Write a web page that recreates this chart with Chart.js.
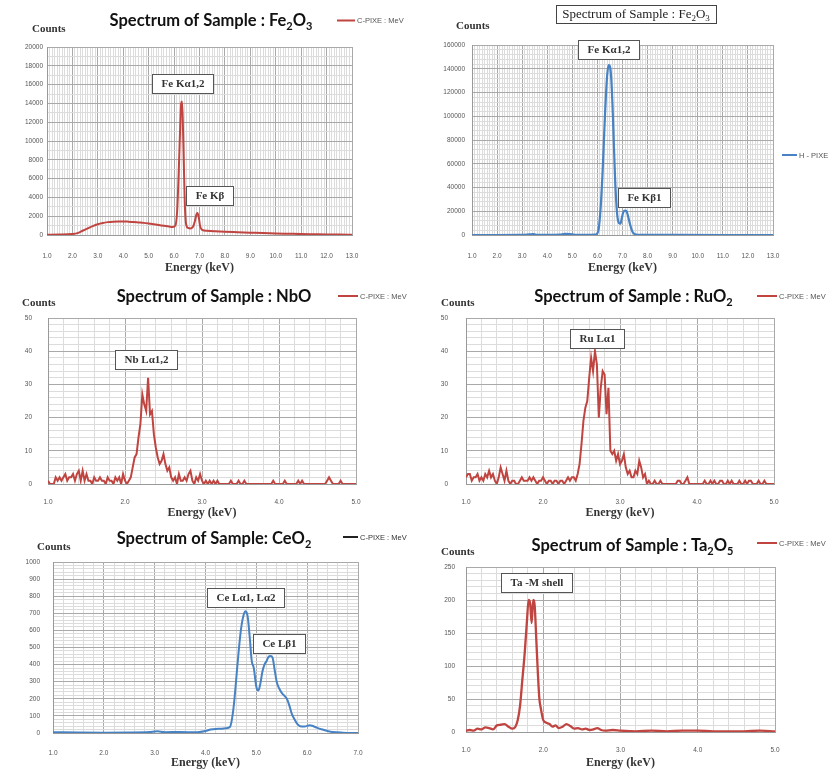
<!DOCTYPE html>
<html>
<head>
<meta charset="utf-8">
<script src="https://cdn.jsdelivr.net/npm/chart.js@4.4.1/dist/chart.umd.min.js"></script>
<style>
  html, body { margin: 0; padding: 0; background: #fff; }
  #sheet { position: relative; width: 830px; height: 773px; overflow: hidden; }
  #sheet canvas { position: absolute; }
</style>
</head>
<body>
<div id="sheet">
  <canvas id="c1" width="415" height="280" style="left:0;top:0"></canvas>
  <canvas id="c2" width="415" height="280" style="left:415px;top:0"></canvas>
  <canvas id="c3" width="415" height="240" style="left:0;top:280px"></canvas>
  <canvas id="c4" width="415" height="240" style="left:415px;top:280px"></canvas>
  <canvas id="c5" width="415" height="253" style="left:0;top:520px"></canvas>
  <canvas id="c6" width="415" height="253" style="left:415px;top:520px"></canvas>
</div>
<script>
// Spectres PIXE (énergie en keV, coups)

// Fe2O3, C-PIXE
const feCEnergy = [1.0, 1.5, 2.0, 2.2, 2.4, 2.6, 2.8, 3.0, 3.2, 3.4, 3.6, 3.8, 4.0, 4.2, 4.4,
  4.6, 4.8, 5.0, 5.2, 5.4, 5.6, 5.8, 5.95, 6.05, 6.12, 6.18, 6.24, 6.28, 6.31, 6.34, 6.38, 6.42,
  6.47, 6.55, 6.65, 6.75, 6.82, 6.88, 6.92, 6.97, 7.02, 7.1, 7.3, 7.6, 8.0, 8.5, 9.0, 9.5, 10.0,
  10.5, 11.0, 11.5, 12.0, 12.5, 13.0];
const feCCounts = [30, 40, 100, 200, 450, 700, 950, 1150, 1280, 1370, 1420, 1440, 1440, 1420, 1390,
  1340, 1290, 1220, 1140, 1060, 980, 900, 850, 1000, 2500, 6500, 11500, 14000, 14200, 12500, 8000, 3500,
  1200, 750, 700, 900, 1500, 2200, 2350, 1900, 1000, 550, 450, 400, 350, 300, 250, 200, 160,
  130, 100, 80, 60, 45, 35];
const feCNotes = ['Fe Kα1,2', 'Fe Kβ'];
const feCNoteAt = [[6.33, 16170], [7.38, 4255]];

// Fe2O3, H-PIXE
const feHEnergy = [1.0, 2.0, 3.0, 3.3, 3.45, 3.6, 4.0, 4.5, 4.7, 4.9, 5.1, 5.5, 5.9, 6.0, 6.05,
  6.1, 6.15, 6.2, 6.25, 6.3, 6.35, 6.4, 6.45, 6.5, 6.55, 6.6, 6.65, 6.7, 6.75, 6.8, 6.86, 6.92,
  6.97, 7.03, 7.1, 7.16, 7.22, 7.3, 7.38, 7.45, 7.55, 7.7, 8.0, 9.0, 13.0];
const feHCounts = [0, 0, 100, 500, 700, 200, 100, 300, 900, 700, 200, 100, 300, 1500, 5000,
  15000, 30000, 50000, 75000, 100000, 122000, 137000, 143000, 142000, 132000, 110000, 80000, 50000,
  28000, 15000, 10000, 9500, 14000, 19000, 20500, 20000, 16000, 9000, 3500, 1200, 300, 100, 50, 30, 0];
const feHNotes = ['Fe Kα1,2', 'Fe Kβ1'];
const feHNoteAt = [[6.46, 155800], [7.87, 31200]];

// NbO et RuO2 : un canal tous les 0.025 keV à partir de 1.0 keV
const channelKeV = 0.025;
const nbCounts = [
  1, 0, 0, 0, 2, 1, 2, 1,
  2, 3, 1, 2, 2, 3, 1, 3,
  4, 1, 4, 1, 3, 1, 1, 0,
  2, 1, 1, 2, 1, 1, 0, 2,
  1, 1, 0, 2, 1, 2, 0, 3,
  1, 0, 1, 2, 5, 8, 9, 14,
  18, 27, 24, 22, 32, 21, 22, 15,
  11, 8, 6, 7, 9, 6, 4, 5,
  2, 1, 2, 0, 3, 1, 1, 2,
  1, 3, 4, 1, 0, 2, 1, 3,
  1, 0, 1, 0, 1, 0, 1, 0,
  1, 0, 0, 0, 0, 0, 0, 1,
  0, 0, 0, 1, 0, 0, 1, 0,
  0, 0, 0, 0, 0, 0, 0, 0,
  0, 0, 0, 0, 0, 1, 0, 0,
  0, 0, 0, 1, 0, 0, 0, 0,
  0, 0, 1, 0, 1, 0, 0, 0,
  0, 0, 0, 0, 0, 0, 0, 0,
  0, 1, 2, 1, 0, 0, 0, 0,
  1, 0, 0, 0, 0, 0, 0, 0,
  0];
const nbNotes = ['Nb Lα1,2'];
const nbNoteAt = [[2.27, 37.5]];

const ruCounts = [
  2, 3, 3, 1, 2, 2, 3, 1,
  2, 1, 3, 2, 4, 2, 3, 1,
  0, 2, 5, 3, 1, 4, 1, 0,
  1, 1, 0, 0, 1, 2, 1, 1,
  1, 2, 1, 2, 1, 0, 1, 1,
  2, 1, 0, 1, 1, 0, 1, 1,
  0, 1, 1, 0, 1, 2, 1, 2,
  2, 1, 3, 6, 12, 19, 23, 25,
  32, 38, 34, 40, 36, 20, 29, 34,
  33, 21, 29, 10, 9, 10, 7, 9,
  6, 7, 9, 5, 3, 4, 2, 2,
  4, 3, 7, 5, 2, 3, 0, 1,
  0, 0, 1, 0, 0, 1, 0, 0,
  0, 0, 0, 0, 0, 0, 1, 1,
  0, 0, 1, 2, 0, 0, 0, 0,
  0, 0, 0, 0, 1, 0, 0, 1,
  0, 1, 0, 0, 1, 1, 0, 0,
  1, 0, 1, 0, 0, 0, 1, 0,
  0, 1, 0, 1, 1, 0, 0, 0,
  1, 0, 0, 1, 0, 0, 0, 0,
  0];
const ruNotes = ['Ru Lα1'];
const ruNoteAt = [[2.70, 43.8]];

// CeO2
const ceEnergy = [1.0, 1.5, 2.0, 2.5, 2.9, 3.05, 3.2, 3.5, 3.8, 4.0, 4.1, 4.2, 4.3, 4.4, 4.48,
  4.52, 4.56, 4.6, 4.65, 4.7, 4.75, 4.79, 4.83, 4.87, 4.91, 4.95, 5.0, 5.04, 5.08, 5.12,
  5.16, 5.2, 5.24, 5.28, 5.32, 5.36, 5.4, 5.45, 5.5, 5.56, 5.6, 5.65, 5.7, 5.75, 5.8,
  5.86, 5.95, 6.05, 6.1, 6.2, 6.3, 6.4, 6.5, 6.7, 7.0];
const ceCounts = [5, 3, 2, 3, 6, 10, 5, 6, 4, 12, 20, 24, 25, 28, 35,
  80, 170, 300, 470, 610, 690, 712, 680, 560, 420, 380, 270, 248, 290, 360,
  400, 420, 445, 450, 440, 370, 300, 260, 235, 215, 200, 160, 110, 80, 55,
  40, 38, 45, 42, 30, 20, 12, 6, 2, 0];
const ceNotes = ['Ce Lα1, Lα2', 'Ce Lβ1'];
const ceNoteAt = [[4.78, 795], [5.44, 526]];

// Ta2O5
const taEnergy = [1.0, 1.05, 1.1, 1.15, 1.2, 1.25, 1.3, 1.35, 1.4, 1.45, 1.5, 1.55, 1.6, 1.64, 1.67,
  1.7, 1.73, 1.76, 1.79, 1.81, 1.83, 1.85, 1.87, 1.89, 1.91, 1.93, 1.95, 1.97, 2.0, 2.04,
  2.08, 2.12, 2.16, 2.2, 2.25, 2.3, 2.35, 2.4, 2.45, 2.5, 2.55, 2.6, 2.65, 2.7, 2.75,
  2.8, 2.9, 3.0, 3.2, 3.4, 3.6, 3.8, 4.0, 4.2, 4.4, 4.6, 4.8, 5.0];
const taCounts = [2, 3, 2, 5, 4, 7, 6, 4, 10, 11, 12, 8, 5, 8, 18,
  40, 80, 120, 170, 200, 195, 165, 200, 190, 140, 90, 50, 35, 18, 14,
  12, 8, 10, 6, 8, 12, 9, 5, 6, 4, 5, 3, 4, 6, 3,
  2, 3, 2, 1, 2, 1, 2, 2, 1, 1, 1, 2, 1];
const taNotes = ['Ta -M shell'];
const taNoteAt = [[1.91, 226]];

const RED = '#c0443f';
const BLUE = '#4682c4';
const SERIF = "'Liberation Serif', 'DejaVu Serif', serif";
const SANS = "'Liberation Sans', Arial, sans-serif";
const TITLE_FONT = "Lato, 'Liberation Sans', sans-serif";

Chart.defaults.font.family = SANS;

function pairs(xs, ys) {
  return ys.map((y, i) => ({ x: xs[i], y: y }));
}
function channels(ys) {
  return ys.map((y, i) => ({ x: 1.0 + i * channelKeV, y: y }));
}
function isMajor(v, step) {
  const r = v / step;
  return Math.abs(r - Math.round(r)) < 1e-6;
}

// texte avec indices : "Fe_2O_3"
function subParts(str) {
  const parts = [];
  let buf = '';
  for (let i = 0; i < str.length; i++) {
    if (str[i] === '_' && i + 1 < str.length) {
      if (buf) parts.push({ t: buf, sub: false });
      buf = '';
      parts.push({ t: str[i + 1], sub: true });
      i++;
    } else {
      buf += str[i];
    }
  }
  if (buf) parts.push({ t: buf, sub: false });
  return parts;
}

function drawSubText(ctx, str, cx, cy, family, weight, size, color) {
  const parts = subParts(str);
  const fontFor = p => weight + ' ' + (p.sub ? Math.round(size * 0.68) : size) + 'px ' + family;
  let total = 0;
  parts.forEach(p => { ctx.font = fontFor(p); p.w = ctx.measureText(p.t).width; total += p.w; });
  let x = cx - total / 2;
  const base = cy + size * 0.36;
  ctx.fillStyle = color;
  ctx.textAlign = 'left';
  ctx.textBaseline = 'alphabetic';
  parts.forEach(p => {
    ctx.font = fontFor(p);
    ctx.fillText(p.t, x, p.sub ? base + size * 0.22 : base);
    x += p.w;
  });
  return total;
}

// titre, "Counts", légende et étiquettes encadrées
const decor = {
  id: 'decor',
  afterDraw(chart, args, o) {
    const ctx = chart.ctx;
    ctx.save();

    if (o.boxedTitle) {
      const w = drawSubText(ctx, o.title, o.titleX, o.titleY, SERIF, 'normal', 13, '#222');
      ctx.strokeStyle = '#444';
      ctx.lineWidth = 1;
      ctx.strokeRect(Math.round(o.titleX - w / 2 - 6) + 0.5, Math.round(o.titleY - 9) + 0.5,
        Math.round(w + 12), 18);
    } else {
      drawSubText(ctx, o.title, o.titleX, o.titleY, TITLE_FONT, 'bold', 16.5, '#111');
    }

    ctx.font = 'bold 11px ' + SERIF;
    ctx.fillStyle = '#333';
    ctx.textAlign = 'left';
    ctx.textBaseline = 'middle';
    ctx.fillText('Counts', o.countsX, o.countsY);

    ctx.strokeStyle = o.legendColor;
    ctx.lineWidth = 2;
    ctx.beginPath();
    ctx.moveTo(o.legendX, o.legendY);
    ctx.lineTo(o.legendX + o.legendLen, o.legendY);
    ctx.stroke();
    ctx.font = '7.5px ' + SANS;
    ctx.fillStyle = o.legendTextColor || '#555';
    ctx.fillText(o.legendText, o.legendX + o.legendLen + 2, o.legendY + 0.5);

    const xs = chart.scales.x, ys = chart.scales.y;
    ctx.font = 'bold 11px ' + SERIF;
    o.notes.forEach((text, i) => {
      const px = xs.getPixelForValue(o.noteAt[i][0]);
      const py = ys.getPixelForValue(o.noteAt[i][1]);
      const w = Math.round(ctx.measureText(text).width + 18);
      const h = 19;
      const left = Math.round(px - w / 2), top = Math.round(py - h / 2);
      ctx.fillStyle = '#fff';
      ctx.fillRect(left, top, w, h);
      ctx.strokeStyle = '#555';
      ctx.lineWidth = 1;
      ctx.strokeRect(left + 0.5, top + 0.5, w, h);
      ctx.fillStyle = '#333';
      ctx.textAlign = 'center';
      ctx.textBaseline = 'middle';
      ctx.fillText(text, left + w / 2 + 0.5, top + h / 2 + 1);
    });

    ctx.restore();
  }
};

const panels = [
  { id: 'c1', size: [415, 280], area: [47, 47, 352, 235],
    x: [1, 13, 1, 0.1], y: [20000, 2000, 1000],
    data: pairs(feCEnergy, feCCounts), color: RED, width: 2, smooth: true,
    yPad: 4, xTickPad: 17, xTitlePad: 4.8,
    deco: { title: 'Spectrum of Sample : Fe_2O_3', titleX: 211, titleY: 20,
      countsX: 32, countsY: 29, legendX: 337, legendY: 20.5, legendLen: 18, legendColor: RED,
      legendText: 'C-PIXE : MeV', notes: feCNotes, noteAt: feCNoteAt } },
  { id: 'c2', size: [415, 280], area: [57, 45, 358, 235],
    x: [1, 13, 1, 0.1], y: [160000, 20000, 4000],
    data: pairs(feHEnergy, feHCounts), color: BLUE, width: 2.2, smooth: true,
    yPad: 7, xTickPad: 17, xTitlePad: 4.8,
    deco: { title: 'Spectrum of Sample : Fe_2O_3', boxedTitle: true, titleX: 221, titleY: 13.5,
      countsX: 41, countsY: 26, legendX: 367, legendY: 155, legendLen: 15, legendColor: BLUE,
      legendText: 'H - PIXE', notes: feHNotes, noteAt: feHNoteAt } },
  { id: 'c3', size: [415, 240], area: [48, 38, 356, 204],
    x: [1, 5, 1, 0.2], y: [50, 10, 2],
    data: channels(nbCounts), color: RED, width: 2, smooth: false,
    yPad: 16, xTickPad: 14, xTitlePad: 0,
    deco: { title: 'Spectrum of Sample : NbO', titleX: 214, titleY: 16,
      countsX: 22, countsY: 23, legendX: 338, legendY: 16, legendLen: 20, legendColor: RED,
      legendText: 'C-PIXE : MeV', notes: nbNotes, noteAt: nbNoteAt } },
  { id: 'c4', size: [415, 240], area: [51, 38, 359, 204],
    x: [1, 5, 1, 0.2], y: [50, 10, 2],
    data: channels(ruCounts), color: RED, width: 2, smooth: false,
    yPad: 18, xTickPad: 14, xTitlePad: 0,
    deco: { title: 'Spectrum of Sample : RuO_2', titleX: 218.5, titleY: 16,
      countsX: 26, countsY: 23, legendX: 342, legendY: 16, legendLen: 20, legendColor: RED,
      legendText: 'C-PIXE : MeV', notes: ruNotes, noteAt: ruNoteAt } },
  { id: 'c5', size: [415, 253], area: [53, 42, 358, 213],
    x: [1, 7, 1, 0.2], y: [1000, 100, 20],
    data: pairs(ceEnergy, ceCounts), color: BLUE, width: 2, smooth: true,
    yPad: 13, xTickPad: 16, xTitlePad: 2.8,
    deco: { title: 'Spectrum of Sample: CeO_2', titleX: 214, titleY: 18,
      countsX: 37, countsY: 27, legendX: 343, legendY: 17, legendLen: 15, legendColor: '#222',
      legendTextColor: '#333', legendText: 'C-PIXE : MeV', notes: ceNotes, noteAt: ceNoteAt } },
  { id: 'c6', size: [415, 253], area: [51, 47, 360, 212],
    x: [1, 5, 1, 0.2], y: [250, 50, 10],
    data: pairs(taEnergy, taCounts), color: RED, width: 2.3, smooth: true,
    yPad: 11, xTickPad: 14, xTitlePad: 2.8,
    deco: { title: 'Spectrum of Sample : Ta_2O_5', titleX: 217.5, titleY: 25,
      countsX: 26, countsY: 32, legendX: 342, legendY: 23, legendLen: 20, legendColor: RED,
      legendText: 'C-PIXE : MeV', notes: taNotes, noteAt: taNoteAt } }
];

panels.forEach(p => {
  const [W, H] = p.size;
  const [l, t, r, b] = p.area;
  const [xMin, xMax, xMajor, xMinor] = p.x;
  const [yMax, yMajor, yMinor] = p.y;
  const tickFont = { family: SANS, size: 6.5 };

  new Chart(document.getElementById(p.id), {
    type: 'line',
    data: {
      datasets: [{
        data: p.data,
        borderColor: p.color,
        borderWidth: p.width,
        pointRadius: 0,
        fill: false,
        cubicInterpolationMode: p.smooth ? 'monotone' : 'default',
        tension: 0
      }]
    },
    options: {
      responsive: false,
      animation: false,
      events: [],
      layout: { padding: { left: 0, top: t, right: W - r, bottom: 0 } },
      plugins: {
        legend: { display: false },
        tooltip: { enabled: false },
        decor: p.deco
      },
      scales: {
        x: {
          type: 'linear', min: xMin, max: xMax,
          afterFit(scale) { scale.height = H - b; },
          border: { display: true, color: '#999' },
          grid: {
            drawTicks: false,
            color: c => (c.tick && isMajor(c.tick.value, xMajor)) ? '#a9a9a9' : '#dcdcdc'
          },
          ticks: {
            stepSize: xMinor, autoSkip: false, maxRotation: 0, minRotation: 0,
            padding: p.xTickPad, font: tickFont, color: '#555',
            callback: v => isMajor(v, xMajor) ? Number(v).toFixed(1) : ''
          },
          title: {
            display: true, text: 'Energy (keV)', color: '#333',
            font: { family: SERIF, size: 12, weight: 'bold' },
            padding: { top: 0, bottom: p.xTitlePad }
          }
        },
        y: {
          type: 'linear', min: 0, max: yMax,
          afterFit(scale) { scale.width = l; },
          border: { display: true, color: '#999' },
          grid: {
            drawTicks: false,
            color: c => (c.tick && isMajor(c.tick.value, yMajor)) ? '#a9a9a9' : '#dcdcdc'
          },
          ticks: {
            stepSize: yMinor, autoSkip: false,
            padding: p.yPad, font: tickFont, color: '#555',
            callback: v => isMajor(v, yMajor) ? String(v) : ''
          }
        }
      }
    },
    plugins: [decor]
  });
});
</script>
</body>
</html>
